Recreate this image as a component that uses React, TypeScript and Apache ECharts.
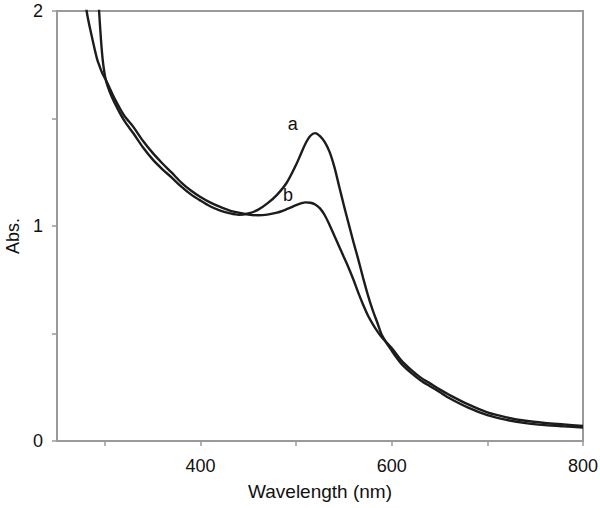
import React, { useEffect, useRef } from "react";
import * as echarts from "echarts";

// Wavelength grid (nm)
const wavelengths = [
  270, 275, 281, 287, 292, 294, 296, 298, 301, 305, 310, 320, 330, 340, 350, 360, 370, 380, 390, 400,
  410, 420, 430, 440, 450, 460, 470, 480, 490, 500, 505, 510, 515, 520, 525, 530, 535, 540, 545, 550,
  555, 560, 565, 570, 575, 580, 585, 590, 600, 610, 620, 630, 640, 650, 660, 680, 700, 720, 740, 760,
  780, 800,
];

// Curve a absorbance
const absA = [
  4.0, 3.5, 2.9, 2.5, 2.14, 2.0, 1.865, 1.765, 1.68, 1.625, 1.575, 1.492, 1.43, 1.365, 1.31, 1.265, 1.225, 1.183, 1.147, 1.118,
  1.092, 1.073, 1.06, 1.052, 1.058, 1.075, 1.105, 1.145, 1.2, 1.285, 1.335, 1.385, 1.42, 1.432, 1.418, 1.39, 1.345, 1.275, 1.185, 1.095,
  1.01, 0.925, 0.845, 0.76, 0.68, 0.61, 0.55, 0.49, 0.42, 0.36, 0.318, 0.283, 0.255, 0.228, 0.2, 0.155, 0.12, 0.098, 0.083, 0.074,
  0.068, 0.063,
];

// Curve b absorbance
const absB = [
  2.5, 2.25, 2.0, 1.87, 1.775, 1.75, 1.725, 1.705, 1.68, 1.642, 1.595, 1.515, 1.46, 1.395, 1.34, 1.292, 1.248, 1.202, 1.165, 1.135,
  1.11, 1.09, 1.073, 1.062, 1.053, 1.05, 1.053, 1.062, 1.078, 1.097, 1.105, 1.11, 1.108, 1.1, 1.082, 1.05, 1.005, 0.955, 0.905, 0.855,
  0.805, 0.75, 0.69, 0.635, 0.585, 0.545, 0.51, 0.48, 0.432, 0.375, 0.332, 0.296, 0.268, 0.24, 0.215, 0.17, 0.133, 0.11, 0.094, 0.084,
  0.077, 0.07,
];

const xTickValues = [300, 400, 500, 600, 700, 800];
const xLabelValues = [400, 600, 800];
const labelA = { text: "a", x: 496.6, y: 1.474 };
const labelB = { text: "b", x: 491.6, y: 1.144 };

const FONT = "'Liberation Sans', Arial, sans-serif";
const AXIS = "#9a9a9a";
const INK = "#1c1c1c";

export default function App() {
  const ref = useRef<HTMLDivElement>(null);
  useEffect(() => {
    if (!ref.current) return;
    const chart = echarts.init(ref.current, null, { renderer: "svg" });
    const seriesA = wavelengths.map((w, i) => [w, absA[i]]);
    const seriesB = wavelengths.map((w, i) => [w, absB[i]]);
    const mk = (l: { text: string; x: number; y: number }) => ({
      symbol: "circle",
      symbolSize: 0,
      silent: true,
      label: {
        show: true,
        position: "inside",
        formatter: l.text,
        color: "#111",
        fontSize: 18,
        fontFamily: FONT,
      },
      data: [{ coord: [l.x, l.y], value: l.text }],
    });
    chart.setOption({
      animation: false,
      backgroundColor: "#fff",
      grid: {
        left: 57,
        right: 17,
        top: 11,
        bottom: 67,
        show: true,
        borderColor: AXIS,
        borderWidth: 2,
        containLabel: false,
        outerBoundsMode: "none",
      },
      xAxis: {
        type: "value",
        min: 250,
        max: 800,
        name: "Wavelength (nm)",
        nameLocation: "middle",
        nameGap: 41,
        nameTextStyle: { fontSize: 19, color: "#111", fontFamily: FONT },
        axisLine: { show: true, onZero: false, lineStyle: { color: AXIS, width: 2 } },
        axisTick: {
          show: true,
          customValues: xTickValues,
          length: 5,
          lineStyle: { color: AXIS, width: 1.5 },
        },
        axisLabel: {
          customValues: xLabelValues,
          margin: 16,
          fontSize: 18,
          color: "#111",
          fontFamily: FONT,
        },
        splitLine: { show: false },
      },
      yAxis: {
        type: "value",
        min: 0,
        max: 2,
        interval: 0.5,
        name: "Abs.",
        nameLocation: "middle",
        nameRotate: 90,
        nameGap: 34,
        nameTextStyle: { fontSize: 18, color: "#111", fontFamily: FONT, padding: [0, 20, 0, 0] },
        axisLine: { show: true, lineStyle: { color: AXIS, width: 2 } },
        axisTick: { show: true, length: 5, lineStyle: { color: AXIS, width: 1.5 } },
        axisLabel: {
          margin: 14,
          fontSize: 18,
          color: "#111",
          fontFamily: FONT,
          formatter: (v: number) => (Number.isInteger(v) ? String(v) : ""),
        },
        splitLine: { show: false },
      },
      series: [
        {
          name: "a",
          type: "line",
          data: seriesA,
          showSymbol: false,
          smooth: 0.3,
          clip: true,
          lineStyle: { color: INK, width: 2.4 },
          markPoint: mk(labelA),
        },
        {
          name: "b",
          type: "line",
          data: seriesB,
          showSymbol: false,
          smooth: 0.3,
          clip: true,
          lineStyle: { color: INK, width: 2.4 },
          markPoint: mk(labelB),
        },
      ],
    });
    return () => chart.dispose();
  }, []);
  return <div ref={ref} style={{ width: 600, height: 508, position: "absolute", left: 0, top: 0 }} />;
}
